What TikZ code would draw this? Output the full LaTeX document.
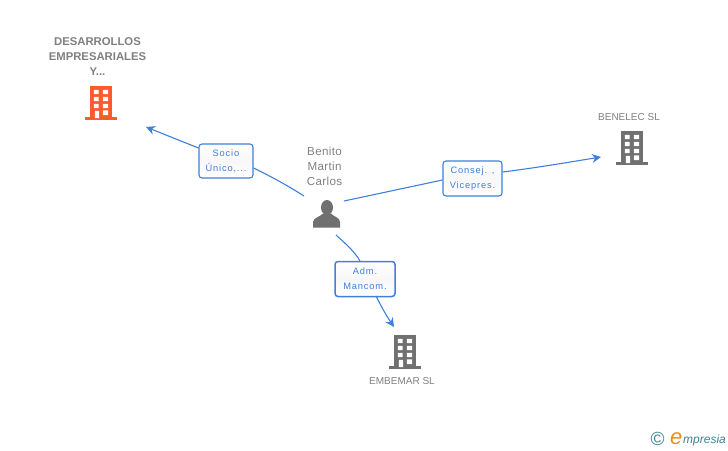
\documentclass[tikz,border=0pt]{standalone}
\usepackage{fontspec}
\setmainfont{Liberation Sans}
\newfontfamily\lblfont[LetterSpace=9]{Liberation Sans}
\newfontfamily\namefont[LetterSpace=3]{Liberation Sans}
\usetikzlibrary{arrows.meta}
\definecolor{linkblue}{HTML}{3F80DC}
\definecolor{txtgray}{HTML}{808080}
\definecolor{icongray}{HTML}{707070}
\definecolor{iconorange}{HTML}{FF5A2B}
\definecolor{logoteal}{HTML}{3F8296}
\definecolor{logoorange}{HTML}{F08A1D}
\tikzset{
  x=1pt,y=-1pt,
  linkline/.style={draw=linkblue,line width=1.1pt},
  linkarrow/.style={linkline,-{Stealth[length=9pt,width=9pt,inset=3pt]}},
  linkbox/.style={draw=linkblue,line width=1.1pt,rounded corners=3pt,inner sep=0pt,
    top color=white,bottom color=white,middle color=gray!6,
    font=\lblfont\fontsize{9.3}{15.2}\selectfont,text=linkblue,align=center},
  nametext/.style={font=\namefont\fontsize{11.6}{15}\selectfont,text=txtgray,align=center,inner sep=0pt},
  companytext/.style={font=\fontsize{10}{15}\selectfont,text=txtgray,align=center,inner sep=0pt},
  companybold/.style={font=\bfseries\fontsize{11.3}{15}\selectfont,text=txtgray,align=center,inner sep=0pt},
  pics/bldg/.style={code={
    \fill[#1] (0,0) rectangle (22,31);
    \fill[#1] (-5,30.5) rectangle (27,33.5);
    \fill[white]
      (3.8,3.8) rectangle (8.7,8.2)  (12.8,3.8) rectangle (18,8.2)
      (3.8,10.8) rectangle (8.7,15.2) (12.8,10.8) rectangle (18,15.2)
      (3.8,17.8) rectangle (8.7,22.2) (12.8,17.8) rectangle (18,22.2)
      (4.8,24.8) rectangle (9,32)   (12.8,24.3) rectangle (18,29);
  }}
}
\begin{document}
\begin{tikzpicture}
\useasboundingbox[fill=white] (0,0) rectangle (728,450);
% icons
\pic at (90,86) {bldg=iconorange};
\pic at (621,131) {bldg=icongray};
\pic at (394,335) {bldg=icongray};
% person
\fill[icongray] (327,207.5) ellipse (6 and 7.5);
\fill[icongray] (313,227.5) -- (313,222) .. controls (313.5,217.5) and (320,217) .. (323,213.5)
  -- (331,213.5) .. controls (334,217) and (340,217.5) .. (340,222) -- (340,227.5) -- cycle;
% text
\node[companybold] (dtext) at (97.5,57) {DESARROLLOS\\EMPRESARIALES\\Y...};
\node[companytext] (btext) at (629,117) {BENELEC SL};
\node[companytext] (etext) at (402,381) {EMBEMAR SL};
\node[nametext] (ptext) at (324.5,166) {Benito\\Martin\\Carlos};
% label boxes
\node[linkbox,minimum width=54pt,minimum height=34pt] (socio) at (226,161) {Socio\\Único,...};
\node[linkbox,minimum width=59pt,minimum height=35pt] (consej) at (472.5,178.5) {Consej. ,\\Vicepres.};
\node[linkbox,minimum width=60pt,minimum height=35pt,line width=1.5pt] (adm) at (365,279) {Adm.\\Mancom.};
% connector ends
\coordinate (pa) at (304,196);
\coordinate (pb) at (344,201);
\coordinate (pc) at (336,235);
\coordinate (ta) at (146,127);
\coordinate (tb) at (601,157);
\coordinate (tc) at (394,327);
\draw[linkline] (pa) .. controls (285,184) and (270,176) .. (socio.east |- 0,168);
\draw[linkarrow] (socio.west |- 0,148) -- (ta);
\draw[linkline] (pb) -- (consej.west |- 0,180);
\draw[linkarrow] (consej.east |- 0,172) .. controls (535,168) and (570,162) .. (tb);
\draw[linkline] (pc) .. controls (346,244) and (355,252) .. (360,261);
\draw[linkarrow] (376,296) .. controls (381,306) and (386,315) .. (tc);
% logo
\node[inner sep=0pt,text=logoteal,font=\fontsize{19}{19}\selectfont] (copy) at (657.5,438.5) {©};
\node[inner sep=0pt,anchor=base west,text=logoorange,font=\itshape\fontsize{22}{22}\selectfont] (loge) at (670,444) {e};
\node[inner sep=0pt,anchor=base west,text=logoteal,font=\itshape\fontsize{12}{12}\selectfont] (logt) at (683,443) {mpresia};
\end{tikzpicture}
\end{document}
